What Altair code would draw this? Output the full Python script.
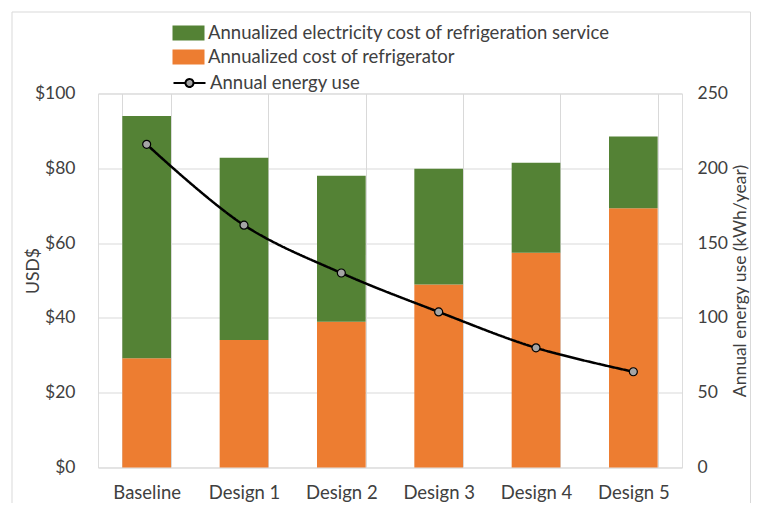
import altair as alt
import pandas as pd

designs = ["Baseline", "Design 1", "Design 2", "Design 3", "Design 4", "Design 5"]
refrigerator_cost = [29.2, 34.1, 39.0, 48.9, 57.4, 69.3]
electricity_cost = [64.8, 48.7, 39.0, 31.0, 24.1, 19.2]
energy_use = [216, 162, 130, 104, 80, 64]

SER_ELEC = "Annualized electricity cost of refrigeration service"
SER_FRIDGE = "Annualized cost of refrigerator"
SER_ENERGY = "Annual energy use"

rows = []
for d, r, e in zip(designs, refrigerator_cost, electricity_cost):
    rows.append({"design": d, "series": SER_FRIDGE, "cost": r, "stackorder": 0})
    rows.append({"design": d, "series": SER_ELEC, "cost": e, "stackorder": 1})
bars_df = pd.DataFrame(rows)
line_df = pd.DataFrame({"design": designs, "energy": energy_use, "series": [SER_ENERGY] * len(designs)})
frame_df = pd.DataFrame({"k": [0]})

FONT = "Lato"
FS = 18.5
FT = 17.5
TXT = "#404040"
GRID = "#d9d9d9"
GREEN = "#548235"
ORANGE = "#ed7d31"

x_enc = alt.X(
    "design:N", sort=designs, title=None,
    scale=alt.Scale(paddingInner=0.5, paddingOuter=0.25),
    axis=alt.Axis(labelAngle=0, labelFont=FONT, labelFontSize=FS, labelColor=TXT,
                  labelPadding=16, ticks=False, domain=False, grid=True,
                  gridColor=GRID, tickBand="extent"),
)

frame = alt.Chart(frame_df).mark_rect(fillOpacity=0, stroke=GRID, strokeWidth=1).encode(
    x=alt.value(-86), x2=alt.value(652.5), y=alt.value(-81.5), y2=alt.value(432)
)

bars = alt.Chart(bars_df).mark_bar().encode(
    x=x_enc,
    y=alt.Y("cost:Q", stack="zero", title="USD$",
            scale=alt.Scale(domain=[0, 100]),
            axis=alt.Axis(orient="left", values=[0, 20, 40, 60, 80, 100], format="$.0f",
                          labelFont=FONT, labelFontSize=FT, labelColor=TXT, labelPadding=23,
                          ticks=False, domain=False, grid=True, gridColor=GRID,
                          titleFont=FONT, titleFontSize=FT, titleFontWeight="normal",
                          titleColor=TXT, titleAngle=-90, titleX=-65, titleY=177,
                          titleAlign="center", titleBaseline="middle")),
    color=alt.Color("series:N",
                    scale=alt.Scale(domain=[SER_ELEC, SER_FRIDGE], range=[GREEN, ORANGE]),
                    legend=alt.Legend(title=None, orient="none", legendX=80.5, legendY=-70.5,
                                      direction="vertical",
                                      symbolType="M-1.6,-0.75H1.6V0.75H-1.6Z", symbolSize=400,
                                      symbolStrokeWidth=0, labelFont=FONT, labelFontSize=FS,
                                      labelColor=TXT, labelOffset=9.5, labelLimit=600,
                                      rowPadding=4, padding=0)),
    order=alt.Order("stackorder:Q"),
)

line = alt.Chart(line_df).mark_line(color="black", strokeWidth=2.5, interpolate="catmull-rom").encode(
    x=x_enc,
    y=alt.Y("energy:Q", title="Annual energy use (kWh/year)",
            scale=alt.Scale(domain=[0, 250]),
            axis=alt.Axis(orient="right", values=[0, 50, 100, 150, 200, 250],
                          labelFont=FONT, labelFontSize=FT, labelColor=TXT, labelPadding=15,
                          ticks=False, domain=False, grid=False,
                          titleFont=FONT, titleFontSize=FT, titleFontWeight="normal",
                          titleColor=TXT, titleAngle=-90, titleX=58, titleY=187,
                          titleAlign="center", titleBaseline="middle")),
    strokeDash=alt.StrokeDash("series:N", scale=alt.Scale(range=[[1, 0]]),
                              legend=alt.Legend(title=None, orient="none", legendX=80.5, legendY=-21.5,
                                                symbolType="M-1.6,0H-0.4M0.4,0H1.6M-0.4,0A0.4,0.4 0 1,1 0.4,0A0.4,0.4 0 1,1 -0.4,0Z",
                                                symbolSize=400, symbolStrokeColor="black",
                                                symbolFillColor="#a5a5a5", symbolStrokeWidth=2,
                                                labelFont=FONT, labelFontSize=FS, labelColor=TXT,
                                                labelOffset=9.5, labelLimit=600, padding=0)),
)

points = alt.Chart(line_df).mark_point(filled=True, fill="#a5a5a5", stroke="black",
                                       strokeWidth=1.2, size=64, opacity=1).encode(
    x=x_enc,
    y=alt.Y("energy:Q", scale=alt.Scale(domain=[0, 250]), axis=None),
)

chart = alt.layer(frame, bars, line, points).resolve_scale(
    y="independent"
).properties(
    width=584, height=374,
    padding={"left": 90, "top": 85.5, "right": 69, "bottom": 35},
    autosize="none",
).configure_view(stroke=GRID, strokeWidth=1).configure(font=FONT)

chart.save("out.html", embed_options={"renderer": "svg", "actions": False})
